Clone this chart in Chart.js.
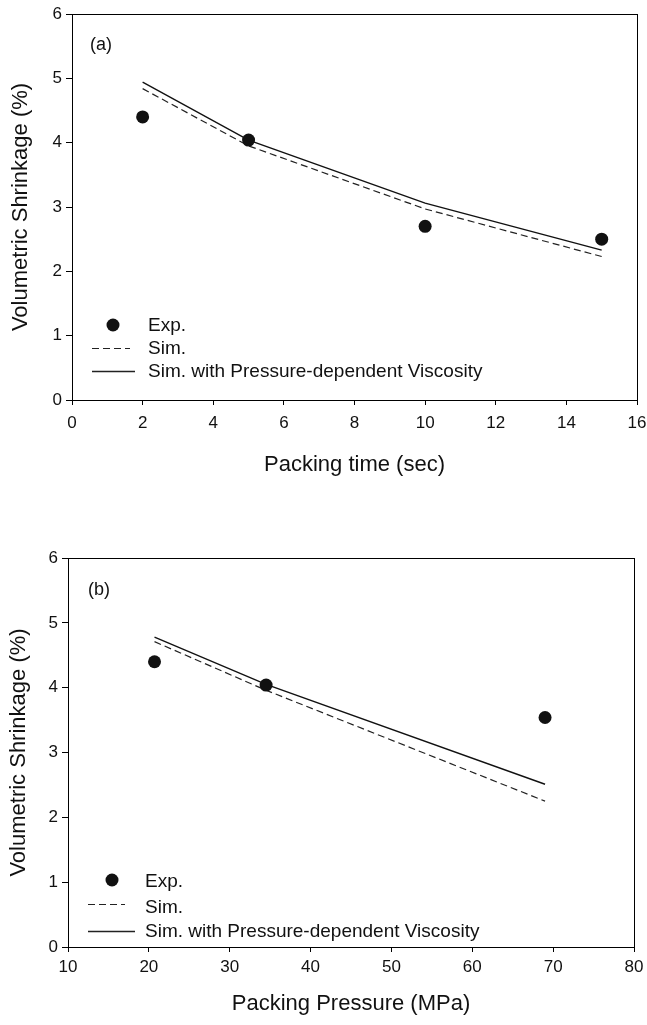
<!DOCTYPE html>
<html>
<head>
<meta charset="utf-8">
<script src="https://cdn.jsdelivr.net/npm/chart.js@4/dist/chart.umd.min.js"></script>
<style>
  html, body { margin: 0; padding: 0; background: #fff; }
  body { width: 647px; height: 1025px; position: relative; overflow: hidden; }
  .box { position: absolute; left: 0; width: 647px; }
  #boxA { top: 0; height: 490px; }
  #boxB { top: 520px; height: 505px; }
</style>
</head>
<body>
<div class="box" id="boxA"><canvas id="chartA"></canvas></div>
<div class="box" id="boxB"><canvas id="chartB"></canvas></div>
<script>
// ---------- Data: (a) Packing time ----------
const timeExpX = [2, 5, 10, 15];
const timeExpY = [4.40, 4.04, 2.70, 2.50];
const timeSimX = [2, 5, 10, 15];
const timeSimY = [4.84, 3.95, 2.97, 2.23];
const timePdvX = [2, 5, 10, 15];
const timePdvY = [4.94, 4.04, 3.06, 2.33];
const timeXTicks = [0, 2, 4, 6, 8, 10, 12, 14, 16];

// ---------- Data: (b) Packing pressure ----------
const presExpX = [20.7, 34.5, 69];
const presExpY = [4.40, 4.04, 3.54];
const presSimX = [20.7, 34.5, 69];
const presSimY = [4.71, 3.96, 2.25];
const presPdvX = [20.7, 34.5, 69];
const presPdvY = [4.78, 4.05, 2.51];
const presXTicks = [10, 20, 30, 40, 50, 60, 70, 80];

const yTicks = [0, 1, 2, 3, 4, 5, 6];

const seriesLabels = ["Exp.", "Sim.", "Sim. with Pressure-dependent Viscosity"];
const yTitle = "Volumetric Shrinkage (%)";

const FONT = "'Liberation Sans', Arial, Helvetica, sans-serif";

function pts(xs, ys) { return xs.map((x, i) => ({ x: x, y: ys[i] })); }

const framePlugin = {
  id: 'frame',
  afterDatasetsDraw(chart, args, opts) {
    const a = chart.chartArea, ctx = chart.ctx;
    ctx.save();
    ctx.strokeStyle = '#000';
    ctx.lineWidth = 1;
    ctx.strokeRect(Math.round(a.left) + 0.5, Math.round(a.top) + 0.5,
                   Math.round(a.right - a.left), Math.round(a.bottom - a.top));
    // panel label
    ctx.fillStyle = '#111';
    ctx.font = '18px ' + FONT;
    ctx.textBaseline = 'middle';
    ctx.textAlign = 'left';
    ctx.fillText(opts.panel, a.left + opts.panelDx, a.top + opts.panelDy);
    // legend
    const ds = chart.data.datasets;
    ctx.font = '19px ' + FONT;
    ds.forEach((d, i) => {
      const y = a.bottom + opts.legendDy[i];
      if (i === 0) {
        ctx.beginPath();
        ctx.fillStyle = '#111';
        ctx.arc(a.left + opts.dotDx, y, d.pointRadius, 0, Math.PI * 2);
        ctx.fill();
      } else {
        ctx.beginPath();
        ctx.strokeStyle = '#222';
        ctx.lineWidth = d.borderWidth;
        ctx.setLineDash(d.borderDash || []);
        ctx.moveTo(a.left + opts.lineX0, y + 0.5);
        ctx.lineTo(a.left + opts.lineX1[i - 1], y + 0.5);
        ctx.stroke();
        ctx.setLineDash([]);
      }
      ctx.fillStyle = '#111';
      ctx.fillText(d.label, a.left + opts.textDx, y + opts.textDy[i]);
    });
    ctx.restore();
  }
};

function makeChart(canvasId, cfg) {
  const datasets = [
    { label: seriesLabels[0], data: pts(cfg.expX, cfg.expY), showLine: false,
      pointRadius: 6.5, pointHoverRadius: 6.5, backgroundColor: '#111', borderColor: '#111', borderWidth: 0 },
    { label: seriesLabels[1], data: pts(cfg.simX, cfg.simY), showLine: true,
      pointRadius: 0, borderColor: '#222', borderWidth: 1.2, borderDash: [7, 4], fill: false, tension: 0 },
    { label: seriesLabels[2], data: pts(cfg.pdvX, cfg.pdvY), showLine: true,
      pointRadius: 0, borderColor: '#111', borderWidth: 1.4, fill: false, tension: 0 }
  ];
  return new Chart(document.getElementById(canvasId), {
    type: 'scatter',
    data: { datasets: datasets },
    plugins: [framePlugin],
    options: {
      responsive: true,
      maintainAspectRatio: false,
      animation: false,
      events: [],
      layout: { padding: { top: cfg.padTop, right: cfg.padRight, left: 0, bottom: cfg.padBottom } },
      plugins: {
        legend: { display: false },
        tooltip: { enabled: false },
        frame: cfg.frame
      },
      scales: {
        x: {
          type: 'linear',
          min: cfg.xTicks[0], max: cfg.xTicks[cfg.xTicks.length - 1],
          afterBuildTicks: (s) => { s.ticks = cfg.xTicks.map(v => ({ value: v })); },
          afterFit: (s) => { s.height = cfg.xAxisH; s.paddingLeft = 0; s.paddingRight = 0; },
          border: { display: true, color: '#000', width: 1 },
          grid: { display: true, drawOnChartArea: false, drawTicks: true, tickLength: 5, color: '#000', lineWidth: 1 },
          ticks: { color: '#111', font: { family: FONT, size: 17 }, padding: cfg.xTickPad, maxRotation: 0, autoSkip: false },
          title: { display: true, text: cfg.xTitle, color: '#111', font: { family: FONT, size: 22 },
                   padding: { top: 10, bottom: 0 } }
        },
        y: {
          type: 'linear',
          min: 0, max: 6,
          afterBuildTicks: (s) => { s.ticks = yTicks.map(v => ({ value: v })); },
          afterFit: (s) => { s.width = cfg.yAxisW; s.paddingTop = 0; s.paddingBottom = 0; },
          border: { display: true, color: '#000', width: 1 },
          grid: { display: true, drawOnChartArea: false, drawTicks: true, tickLength: 6, color: '#000', lineWidth: 1 },
          ticks: { color: '#111', font: { family: FONT, size: 17 }, padding: 4, autoSkip: false },
          title: { display: true, text: yTitle, color: '#111', font: { family: FONT, size: 22 },
                   padding: { top: cfg.yTitlePad, bottom: 0 } }
        }
      }
    }
  });
}

makeChart('chartA', {
  expX: timeExpX, expY: timeExpY, simX: timeSimX, simY: timeSimY, pdvX: timePdvX, pdvY: timePdvY,
  xTicks: timeXTicks, xTitle: 'Packing time (sec)',
  padTop: 14, padRight: 10, padBottom: 12, xAxisH: 78, yAxisW: 72, xTickPad: 8, yTitlePad: 8,
  frame: { panel: '(a)', panelDx: 18, panelDy: 31, legendDy: [-75, -52, -29], textDy: [1, 1, 1],
           dotDx: 41, lineX0: 20, lineX1: [58, 63], textDx: 76 }
});

makeChart('chartB', {
  expX: presExpX, expY: presExpY, simX: presSimX, simY: presSimY, pdvX: presPdvX, pdvY: presPdvY,
  xTicks: presXTicks, xTitle: 'Packing Pressure (MPa)',
  padTop: 38, padRight: 13, padBottom: 8, xAxisH: 70, yAxisW: 68, xTickPad: 5, yTitlePad: 6,
  frame: { panel: '(b)', panelDx: 20, panelDy: 32, legendDy: [-67, -43, -16], textDy: [2, 4, 1],
           dotDx: 44, lineX0: 20, lineX1: [57, 67], textDx: 77 }
});
</script>
</body>
</html>
